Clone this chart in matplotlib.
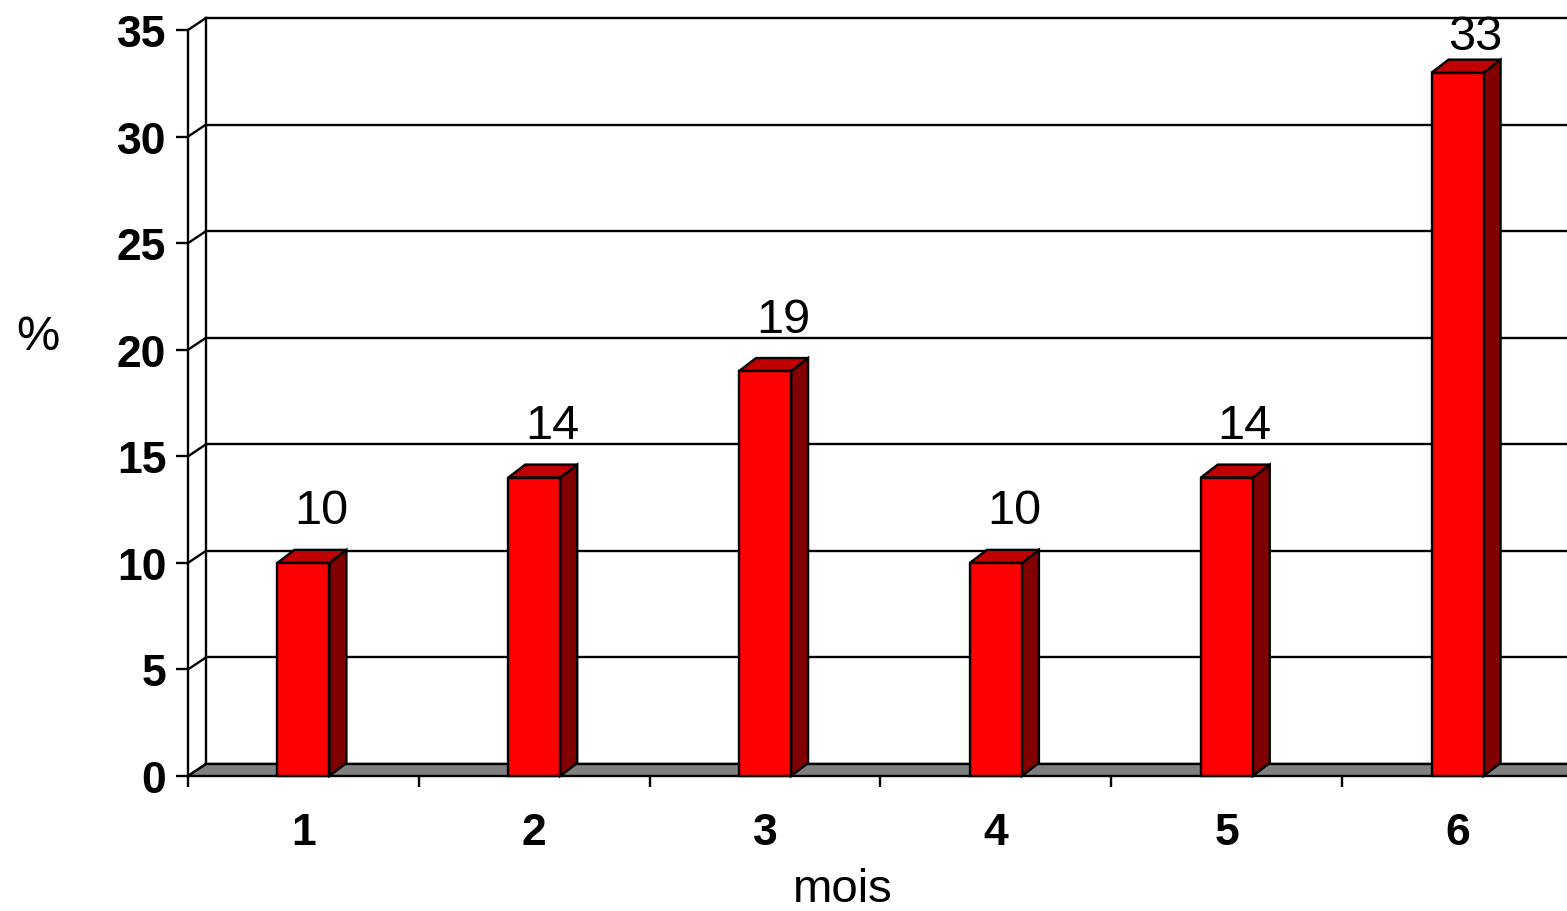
import matplotlib
matplotlib.use("Agg")
import matplotlib.pyplot as plt
from matplotlib.patches import Polygon, Rectangle

# données
mois = [1, 2, 3, 4, 5, 6]
pourcent = [10, 14, 19, 10, 14, 33]
yticks = [0, 5, 10, 15, 20, 25, 30, 35]

plt.rcParams['font.family'] = ['Liberation Sans', 'DejaVu Sans']

W, H, DPI = 1567, 912, 100
fig = plt.figure(figsize=(W / DPI, H / DPI), dpi=DPI)

# plan avant de la boite 3D : x 188..1573 px, y 777..31 px
ax = fig.add_axes([188 / W, (H - 777) / H, 1385 / W, 746 / H])
ax.set_xlim(0.5, 6.5)
ax.set_ylim(0, 35)

# conversion pixels -> unités de données
sx = 6 / 1385
sy = 35 / 746
wall_dx, wall_dy = 18 * sx, 12 * sy
bar_dx, bar_dy = 17 * sx, 13 * sy
bar_w = 52 * sx
x_end = 7.0

lw = 1.7

# ===== mur du fond + grille =====
x0 = 0.5
ax.plot([x0 + wall_dx, x0 + wall_dx], [wall_dy, 35 + wall_dy], color='black', lw=lw, clip_on=False, zorder=1)
for v in yticks:
    ax.plot([x0 + wall_dx, x_end], [v + wall_dy, v + wall_dy], color='black', lw=lw, clip_on=False, zorder=1)
    ax.plot([x0, x0 + wall_dx], [v, v + wall_dy], color='black', lw=lw, clip_on=False, zorder=1)

# ===== sol gris =====
floor = Polygon([(x0, 0), (x_end, 0), (x_end, wall_dy), (x0 + wall_dx, wall_dy)],
                closed=True, facecolor='#808080', edgecolor='black', lw=lw, clip_on=False, zorder=2)
ax.add_patch(floor)

# ===== barres 3D =====
for x, v in zip(mois, pourcent):
    l, r = x - bar_w / 2, x + bar_w / 2
    front = Rectangle((l, 0), bar_w, v, facecolor='#FF0000', edgecolor='black', lw=lw, clip_on=False, zorder=4)
    side = Polygon([(r, 0), (r + bar_dx, bar_dy), (r + bar_dx, v + bar_dy), (r, v)], closed=True,
                   facecolor='#800000', edgecolor='black', lw=lw, clip_on=False, zorder=3)
    top = Polygon([(l, v), (r, v), (r + bar_dx, v + bar_dy), (l + bar_dx, v + bar_dy)], closed=True,
                  facecolor='#C00000', edgecolor='black', lw=lw, clip_on=False, zorder=3)
    ax.add_patch(side)
    ax.add_patch(top)
    ax.add_patch(front)
    ylab = min(v + 52 * sy, 35 - 6 * sy)
    ax.text(x + 18 * sx, ylab, str(v), ha='center', va='center', fontsize=35, zorder=5)

# ===== axes =====
for s in ['top', 'right', 'bottom']:
    ax.spines[s].set_visible(False)
ax.spines['left'].set_linewidth(lw)
ax.spines['left'].set_zorder(6)

ax.set_yticks(yticks)
ax.set_yticklabels([str(t) for t in yticks], fontweight='bold', fontsize=32)
ax.tick_params(axis='y', length=8.6, width=lw, pad=7, direction='out')

ax.set_xticks(mois)
ax.set_xticklabels([str(m) for m in mois], fontweight='bold', fontsize=32)
ax.set_xticks([m + 0.5 for m in [0] + mois], minor=True)
ax.tick_params(axis='x', which='major', length=0, pad=26)
ax.tick_params(axis='x', which='minor', length=8, width=lw, direction='out')
ax.xaxis.set_ticks_position('bottom')

ax.set_xlabel('mois', fontsize=34)
ax.xaxis.label.set_va('center')
ax.xaxis.set_label_coords((843 - 188) / 1385, (777 - 890) / 746)

ax.set_ylabel('%', fontsize=35, rotation=0, ha='center', va='center')
ax.yaxis.set_label_coords((38 - 188) / 1385, (777 - 337) / 746)

ax.patch.set_visible(False)

fig.savefig('out.png', dpi=DPI)
